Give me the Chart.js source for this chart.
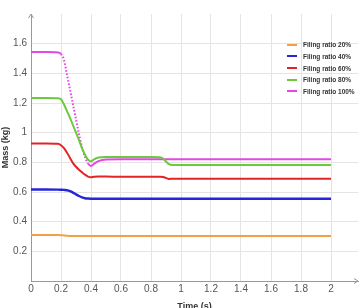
<!DOCTYPE html>
<html>
<head>
<meta charset="utf-8">
<script src="https://cdn.jsdelivr.net/npm/chart.js@4.4.1/dist/chart.umd.min.js"></script>
<style>
  html, body { margin: 0; padding: 0; background: #fff; }
  #wrap { position: relative; width: 362px; height: 308px; overflow: hidden; }
  #legend {
    position: absolute; left: 287px; top: 39px;
    font-family: "Liberation Sans", Arial, sans-serif;
    font-size: 6.5px; font-weight: bold; color: #333;
  }
  .lg-row { height: 11.65px; display: flex; align-items: center; white-space: nowrap; }
  .lg-swatch { width: 10px; height: 2px; margin-right: 6px; }
</style>
</head>
<body>
<div id="wrap">
  <canvas id="chart" width="362" height="308"></canvas>
  <div id="legend"></div>
</div>
<script>
  // Time axis samples (s), shared by all series
  const times = [0, 0.1, 0.18, 0.2, 0.22, 0.24, 0.26, 0.28, 0.3, 0.32, 0.34, 0.36, 0.38, 0.4,
                 0.42, 0.45, 0.5, 0.6, 0.8, 0.86, 0.88, 0.9, 0.92, 0.94, 1.0, 1.5, 2.0];

  // Mass (kg) per filling ratio
  const ratio20  = [0.31, 0.31, 0.31, 0.309, 0.307, 0.305, 0.304, 0.304, 0.304, 0.304, 0.304, 0.304, 0.304, 0.304,
                    0.304, 0.304, 0.304, 0.304, 0.304, 0.304, 0.304, 0.304, 0.304, 0.304, 0.304, 0.304, 0.304];
  const ratio40  = [0.617, 0.617, 0.616, 0.615, 0.614, 0.612, 0.606, 0.596, 0.584, 0.573, 0.564, 0.558, 0.556, 0.555,
                    0.555, 0.555, 0.555, 0.555, 0.555, 0.555, 0.555, 0.555, 0.555, 0.555, 0.555, 0.555, 0.555];
  const ratio60  = [0.927, 0.927, 0.925, 0.915, 0.895, 0.865, 0.83, 0.795, 0.77, 0.75, 0.733, 0.717, 0.704, 0.699,
                    0.703, 0.704, 0.704, 0.703, 0.703, 0.703, 0.701, 0.695, 0.688, 0.689, 0.69, 0.69, 0.69];
  const ratio80  = [1.234, 1.234, 1.232, 1.225, 1.19, 1.145, 1.1, 1.05, 1.0, 0.95, 0.895, 0.852, 0.818, 0.806,
                    0.82, 0.832, 0.836, 0.836, 0.836, 0.835, 0.826, 0.805, 0.788, 0.782, 0.782, 0.782, 0.782];
  const ratio100 = [1.543, 1.543, 1.54, 1.53, 1.49, 1.39, 1.29, 1.19, 1.09, 0.99, 0.9, 0.835, 0.792, 0.776,
                    0.79, 0.808, 0.819, 0.82, 0.82, 0.82, 0.82, 0.82, 0.82, 0.82, 0.82, 0.82, 0.82];

  const seriesLabels = ['Filing ratio 20%', 'Filing ratio 40%', 'Filing ratio 60%', 'Filing ratio 80%', 'Filing ratio 100%'];
  const seriesValues = [ratio20, ratio40, ratio60, ratio80, ratio100];
  const seriesColors = ['#f3a045', '#2626d8', '#e42424', '#6cc83c', '#e448e4'];
  const xTickValues = [0, 0.2, 0.4, 0.6, 0.8, 1, 1.2, 1.4, 1.6, 1.8, 2];
  const yTickValues = [0.2, 0.4, 0.6, 0.8, 1, 1.2, 1.4, 1.6];

  const fmt = v => String(Number(v.toFixed(1)));

  // the fast drop of the 100% case is drawn dotted
  const dottedDrop = ctx => (ctx.datasetIndex === 4 && ctx.p0.parsed.x >= 0.2 && ctx.p1.parsed.x <= 0.38) ? [1.6, 1.8] : undefined;

  const datasets = seriesValues.map((vals, i) => ({
    label: seriesLabels[i],
    data: times.map((t, k) => ({ x: t, y: vals[k] })),
    borderColor: seriesColors[i],
    backgroundColor: seriesColors[i],
    borderWidth: i === 1 ? 2.4 : 2,
    pointRadius: 0,
    cubicInterpolationMode: 'monotone',
    segment: { borderDash: dottedDrop }
  }));

  // axis arrow heads
  const axisArrows = {
    id: 'axisArrows',
    afterDraw(chart) {
      const { ctx, chartArea: a } = chart;
      ctx.save();
      ctx.strokeStyle = '#999';
      ctx.lineWidth = 1;
      ctx.beginPath();
      ctx.moveTo(a.left - 2.5, a.top + 4); ctx.lineTo(a.left, a.top); ctx.lineTo(a.left + 2.5, a.top + 4);
      ctx.moveTo(a.right - 4, a.bottom - 2.5); ctx.lineTo(a.right, a.bottom); ctx.lineTo(a.right - 4, a.bottom + 2.5);
      ctx.stroke();
      ctx.restore();
    }
  };

  const tickFont = { family: '"Liberation Sans", Arial, sans-serif', size: 10 };
  const titleFont = { family: '"Liberation Sans", Arial, sans-serif', size: 9, weight: 'bold' };

  const chart = new Chart(document.getElementById('chart'), {
    type: 'line',
    data: { datasets },
    plugins: [axisArrows],
    options: {
      responsive: false,
      animation: false,
      devicePixelRatio: 1,
      layout: { padding: { top: 14, right: 4, left: 0, bottom: 0 } },
      plugins: { legend: { display: false }, tooltip: { enabled: false } },
      scales: {
        x: {
          type: 'linear', min: 0, max: 2.18,
          afterBuildTicks: s => { s.ticks = xTickValues.map(v => ({ value: v })); },
          afterFit: s => { s.height = 27; },
          ticks: { color: '#555', font: tickFont, padding: 2, maxRotation: 0, callback: v => fmt(v) },
          grid: { color: '#e4e4e4', drawTicks: false },
          border: { color: '#999' },
          title: { display: true, text: 'Time (s)', color: '#333', font: titleFont, padding: { top: 0, bottom: -4 } }
        },
        y: {
          type: 'linear', min: 0, max: 1.8,
          afterBuildTicks: s => { s.ticks = yTickValues.map(v => ({ value: v })); },
          afterFit: s => { s.width = 31; },
          ticks: { color: '#555', font: tickFont, padding: 4, callback: v => fmt(v) },
          grid: { color: '#e4e4e4', drawTicks: false },
          border: { color: '#999' },
          title: { display: true, text: 'Mass (kg)', color: '#333', font: titleFont, padding: { top: 0, bottom: 0 } }
        }
      }
    }
  });

  // legend inside the plot, top right
  const legendEl = document.getElementById('legend');
  legendEl.innerHTML = seriesLabels.map((lbl, i) =>
    `<div class="lg-row"><span class="lg-swatch" style="background:${seriesColors[i]}"></span>${lbl}</div>`
  ).join('');
</script>
</body>
</html>
